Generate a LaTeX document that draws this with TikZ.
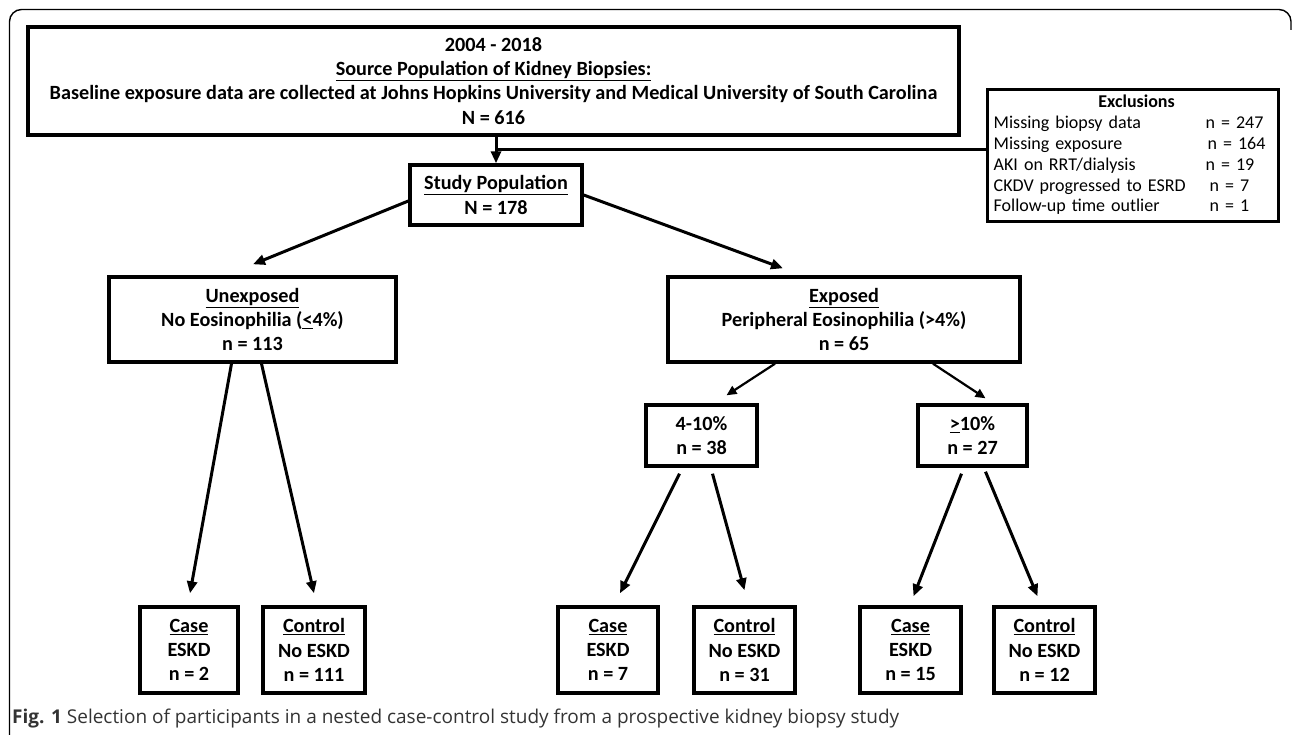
\documentclass[tikz,border=0pt]{standalone}
\usepackage{fontspec}
\setmainfont{Carlito}
\newfontfamily\capfont{Open Sans}
\usetikzlibrary{arrows.meta, calc}
\tikzstyle{arrow} = [line width=3pt,-{Triangle[length=12pt,width=10pt]}]
\tikzstyle{thinarrow} = [line width=2.2pt,-{Triangle[length=10pt,width=9pt]}]

\begin{document}
\begin{tikzpicture}[x=1pt, y=-1pt,
		box/.style={
			rectangle,
			draw,
			line width=3.4pt,
			inner sep=0pt,
			align=center,
			font=\fontsize{20.2}{24.2}\selectfont\bfseries},
		leaf/.style={box, minimum width=100pt, minimum height=86pt}]

		\useasboundingbox (0,0) rectangle (1292,735);

		% outer frame of the figure
		\draw[line width=1.4pt, rounded corners=12pt] (9.5,735) -- (9.5,9.5) -- (1291,9.5) -- (1291,30);

		\node (source) [box, minimum width=931pt, minimum height=108pt] at (493.5,81) {2004 - 2018 \\ \underline{Source Population of Kidney Biopsies:} \\ Baseline exposure data are collected at Johns Hopkins University and Medical University of South Carolina \\ N = 616};
		\node (excl) [box, anchor=north west, minimum width=291pt, minimum height=132pt, inner xsep=6pt, text width=279pt, align=left, font=\fontsize{18}{20.8}\selectfont] at (986,88) {%
			\noindent\begin{tabular}{@{}p{200pt}l@{}}
				\multicolumn{2}{c}{\hspace{14pt}\textbf{Exclusions}} \\
				Missing biopsy data & n = 247 \\
				Missing exposure & \hspace{2pt}n = 164 \\
				AKI on RRT/dialysis & n = 19 \\
				CKDV progressed to ESRD & \hspace{4pt}n = 7 \\
				Follow-up time outlier & \hspace{4pt}n = 1
			\end{tabular}};

		\node (study) [box, minimum width=172pt, minimum height=60pt] at (496,195) {\underline{Study Population} \\ N = 178};
		\node (unexp) [box, minimum width=287pt, minimum height=85pt] at (252.5,319.5) {\underline{Unexposed} \\ No Eosinophilia (\underline{<}4\%) \\ n = 113};
		\node (exp) [box, minimum width=352pt, minimum height=85pt] at (844,319.5) {\underline{Exposed} \\ Peripheral Eosinophilia (>4\%) \\ n = 65};
		\node (low) [box, minimum width=111pt, minimum height=61pt] at (701.5,435.5) {4-10\% \\ n = 38};
		\node (high) [box, minimum width=109pt, minimum height=61pt] at (972.5,435.5) {\underline{>}10\% \\ n = 27};

		\node (case1) [leaf, minimum width=98pt] at (189,650) {\underline{Case} \\ ESKD \\ n = 2};
		\node (ctrl1) [leaf, minimum width=102pt] at (314,650) {\underline{Control} \\ No ESKD \\ n = 111};
		\node (case2) [leaf] at (608,650) {\underline{Case} \\ ESKD \\ n = 7};
		\node (ctrl2) [leaf, minimum width=101pt] at (744.5,650) {\underline{Control} \\ No ESKD \\ n = 31};
		\node (case3) [leaf, minimum width=101pt] at (910.5,650) {\underline{Case} \\ ESKD \\ n = 15};
		\node (ctrl3) [leaf, minimum width=101pt] at (1044.5,650) {\underline{Control} \\ No ESKD \\ n = 12};

		\node (cap) [anchor=west, inner sep=0pt, text=black!80, font=\capfont\fontsize{19}{19}\selectfont] at (12,719) {\textbf{Fig. 1} Selection of participants in a nested case-control study from a prospective kidney biopsy study};

		% source -> study, with the branch to the exclusions
		\draw[arrow] (study.north |- source.south) -- (study.north);
		\coordinate (split) at ($(study.north)!0.5!(study.north |- source.south)$);
		\draw[line width=3pt] (split) -- (split -| excl.west);

		\draw[arrow] ([yshift=-6pt]study.west) -- ($(unexp.north)+(0.5,-11)$);
		\draw[arrow] (study.east) -- ($(exp.north)+(-61,-7)$);

		\draw[arrow] ([xshift=-21pt]unexp.south) -- ($(case1.north)+(1,-12)$);
		\draw[arrow] ([xshift=9pt]unexp.south) -- ($(ctrl1.north)+(0,-12)$);

		\draw[thinarrow] ([xshift=-69pt]exp.south) -- ($(low.north)+(25,-8)$);
		\draw[thinarrow] ([xshift=89pt]exp.south) -- ($(high.north)+(13,-5)$);

		\draw[arrow] ([xshift=-22pt,yshift=-6pt]low.south) -- ($(case2.north)+(12,-12)$);
		\draw[arrow] ([xshift=11pt,yshift=-6pt]low.south) -- ($(ctrl2.north)+(0,-15)$);
		\draw[arrow] ([xshift=-11pt,yshift=-6pt]high.south) -- ($(case3.north)+(3,-9)$);
		\draw[arrow] ([xshift=13pt,yshift=-4pt]high.south) -- ($(ctrl3.north)+(-7,-9)$);
	\end{tikzpicture}
\end{document}
